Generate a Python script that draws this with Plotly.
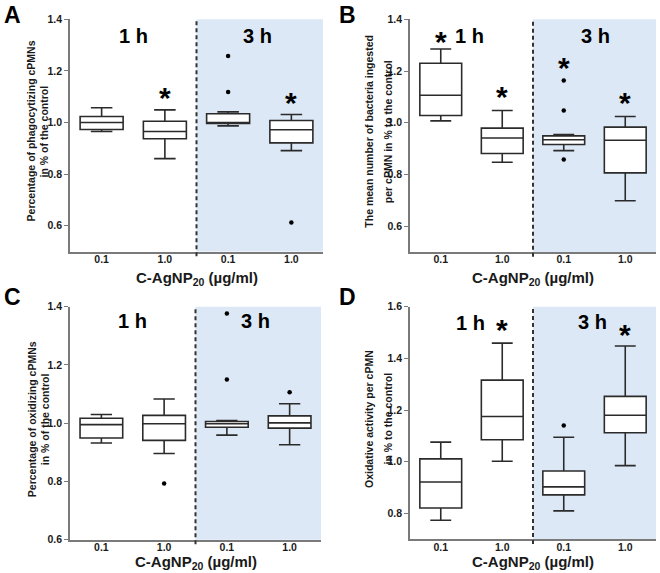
import plotly.graph_objects as go

W, H = 660, 573

positions = [0, 1, 2, 3]
tick_labels = ["0.1", "1.0", "0.1", "1.0"]

# Panel A: percentage of phagocytizing cPMNs
a_low = [0.965, 0.860, 0.987, 0.891]
a_q1 = [0.973, 0.937, 0.996, 0.921]
a_med = [1.000, 0.965, 0.999, 0.972]
a_q3 = [1.023, 1.005, 1.034, 1.008]
a_high = [1.057, 1.049, 1.041, 1.031]
a_out_x = [2, 2, 3]
a_out_y = [1.258, 1.118, 0.612]
a_star_x = [1, 3]
a_star_y = [1.11, 1.09]

# Panel B: mean number of bacteria ingested per cPMN
b_low = [1.007, 0.847, 0.892, 0.698]
b_q1 = [1.028, 0.881, 0.916, 0.806]
b_med = [1.106, 0.941, 0.934, 0.932]
b_q3 = [1.230, 0.979, 0.949, 0.983]
b_high = [1.285, 1.047, 0.954, 1.024]
b_out_x = [2, 2, 2]
b_out_y = [1.163, 1.047, 0.858]
b_star_x = [0, 1, 2, 3]
b_star_y = [1.327, 1.114, 1.227, 1.091]

# Panel C: percentage of oxidizing cPMNs
c_low = [0.932, 0.896, 0.959, 0.926]
c_q1 = [0.949, 0.941, 0.986, 0.983]
c_med = [0.995, 0.998, 0.998, 1.001]
c_q3 = [1.017, 1.027, 1.006, 1.025]
c_high = [1.030, 1.083, 1.009, 1.067]
c_out_x = [1, 2, 2, 3]
c_out_y = [0.793, 1.377, 1.150, 1.106]
c_star_x = []
c_star_y = []

# Panel D: oxidative activity per cPMN
d_low = [0.774, 1.002, 0.810, 0.985]
d_q1 = [0.821, 1.085, 0.872, 1.112]
d_med = [0.922, 1.175, 0.903, 1.180]
d_q3 = [1.011, 1.316, 0.964, 1.253]
d_high = [1.076, 1.459, 1.095, 1.448]
d_out_x = [2]
d_out_y = [1.140]
d_star_x = [1, 3]
d_star_y = [1.523, 1.504]

FONT = "Arial, Liberation Sans, sans-serif"
BOX_COLOR = "#2b2b2b"
AXIS_COLOR = "#7a7a7a"
SHADE = "#dce8f6"

panels = [
    dict(letter="A", low=a_low, q1=a_q1, med=a_med, q3=a_q3, high=a_high,
         ox=a_out_x, oy=a_out_y, sx=a_star_x, sy=a_star_y,
         yrange=[0.5, 1.4], ticks=[0.6, 0.8, 1.0, 1.2, 1.4],
         px=(70, 323), py=(19.3, 251.5),
         ytitle=["Percentage of phagocytizing cPMNs", "in % of the control"],
         ytx=[31, 44], hlab=[(0.5, 1.335), (2.47, 1.335)],
         letter_xy=(12, 15), xtitle_y=278),
    dict(letter="B", low=b_low, q1=b_q1, med=b_med, q3=b_q3, high=b_high,
         ox=b_out_x, oy=b_out_y, sx=b_star_x, sy=b_star_y,
         yrange=[0.5, 1.4], ticks=[0.6, 0.8, 1.0, 1.2, 1.4],
         px=(410, 656), py=(19.3, 252),
         ytitle=["The mean number of bacteria ingested", "per cPMN in % to the control"],
         ytx=[369, 387.5], hlab=[(0.46, 1.335), (2.51, 1.335)],
         letter_xy=(348, 15), xtitle_y=278),
    dict(letter="C", low=c_low, q1=c_q1, med=c_med, q3=c_q3, high=c_high,
         ox=c_out_x, oy=c_out_y, sx=c_star_x, sy=c_star_y,
         yrange=[0.6, 1.4], ticks=[0.6, 0.8, 1.0, 1.2, 1.4],
         px=(70, 321), py=(306.7, 539.7),
         ytitle=["Percentage of oxidizing cPMNs", "in % of the control"],
         ytx=[32, 45], hlab=[(0.49, 1.352), (2.46, 1.352)],
         letter_xy=(13, 297), xtitle_y=562),
    dict(letter="D", low=d_low, q1=d_q1, med=d_med, q3=d_q3, high=d_high,
         ox=d_out_x, oy=d_out_y, sx=d_star_x, sy=d_star_y,
         yrange=[0.7, 1.6], ticks=[0.8, 1.0, 1.2, 1.4, 1.6],
         px=(410, 656), py=(306.7, 539.3),
         ytitle=["Oxidative activity per cPMN", "in % to the control"],
         ytx=[369, 387.5], hlab=[(0.48, 1.538), (2.47, 1.542)],
         letter_xy=(348, 297), xtitle_y=562),
]

fig = go.Figure()
annotations = []
shapes = []
layout = {}

for i, p in enumerate(panels):
    n = "" if i == 0 else str(i + 1)
    xa, ya = "x" + n, "y" + n
    fig.add_trace(go.Box(
        x=positions, q1=p["q1"], median=p["med"], q3=p["q3"],
        lowerfence=p["low"], upperfence=p["high"],
        xaxis=xa, yaxis=ya, width=0.68, whiskerwidth=0.5,
        fillcolor="white", line=dict(color=BOX_COLOR, width=1.6),
        boxpoints=False, showlegend=False, hoverinfo="skip",
    ))
    if p["ox"]:
        fig.add_trace(go.Scatter(
            x=p["ox"], y=p["oy"], mode="markers", xaxis=xa, yaxis=ya,
            marker=dict(color="black", size=4.5), showlegend=False, hoverinfo="skip",
        ))
    x0, x1 = p["px"]
    y0, y1 = p["py"]
    layout["xaxis" + n] = dict(
        domain=[x0 / W, x1 / W], anchor=ya, range=[-0.5, 3.5], automargin=False,
        tickmode="array", tickvals=positions, ticktext=tick_labels,
        showline=True, linecolor=AXIS_COLOR, linewidth=1.6, ticks="",
        ticklabelstandoff=-3,
        showgrid=False, zeroline=False, fixedrange=True,
        tickfont=dict(family=FONT, size=10.5, color="#1a1a1a", weight="bold"),
    )
    layout["yaxis" + n] = dict(
        domain=[1 - y1 / H, 1 - y0 / H], anchor=xa, range=p["yrange"], automargin=False,
        tickmode="array", tickvals=p["ticks"],
        ticktext=["%.1f" % t for t in p["ticks"]],
        showline=True, linecolor=AXIS_COLOR, linewidth=1.6,
        ticks="outside", ticklen=4, tickwidth=1.4, tickcolor=AXIS_COLOR,
        showgrid=False, zeroline=False, fixedrange=True,
        tickfont=dict(family=FONT, size=10.5, color="#1a1a1a", weight="bold"),
    )
    # shaded 3 h region and dashed separator
    shapes.append(dict(type="rect", xref=xa, yref=ya + " domain", x0=1.5, x1=3.5,
                       y0=0, y1=1, fillcolor=SHADE, line=dict(width=0), layer="below"))
    shapes.append(dict(type="line", xref=xa, yref=ya + " domain", x0=1.5, x1=1.5,
                       y0=-0.02, y1=1, line=dict(color="#333333", width=2, dash="4px,3px"),
                       layer="above"))
    # 1 h / 3 h labels
    for (hx, hy), txt in zip(p["hlab"], ["1 h", "3 h"]):
        annotations.append(dict(x=hx, y=hy, xref=xa, yref=ya, text=txt, showarrow=False,
                                font=dict(family=FONT, size=20, color="black", weight="bold"),
                                xanchor="center", yanchor="middle"))
    # asterisks
    for sx, sy in zip(p["sx"], p["sy"]):
        annotations.append(dict(x=sx, y=sy, xref=xa, yref=ya, text="*", showarrow=False,
                                font=dict(family=FONT, size=30, color="black", weight="bold"),
                                xanchor="center", yanchor="middle", yshift=-3))
    # y-axis title lines
    ymid = 1 - ((y0 + y1) / 2 - 4) / H
    for tx, line in zip(p["ytx"], p["ytitle"]):
        annotations.append(dict(x=tx / W, y=ymid, xref="paper", yref="paper", text=line,
                                textangle=-90, showarrow=False,
                                font=dict(family=FONT, size=10.5, color="#1a1a1a", weight="bold"),
                                xanchor="center", yanchor="middle"))
    # x-axis title
    annotations.append(dict(x=(x0 + x1) / 2 / W, y=1 - p["xtitle_y"] / H, xref="paper",
                            yref="paper", text="C-AgNP<sub>20</sub> (µg/ml)", showarrow=False,
                            font=dict(family=FONT, size=15, color="#1a1a1a", weight="bold"),
                            xanchor="center", yanchor="middle"))
    # panel letter
    lx, ly = p["letter_xy"]
    annotations.append(dict(x=lx / W, y=1 - ly / H, xref="paper", yref="paper",
                            text=p["letter"], showarrow=False,
                            font=dict(family=FONT, size=23, color="black", weight="bold"),
                            xanchor="center", yanchor="middle"))

fig.update_layout(
    width=W, height=H, margin=dict(l=0, r=0, t=0, b=0),
    paper_bgcolor="white", plot_bgcolor="white",
    shapes=shapes, annotations=annotations, **layout,
)

fig.write_html("out.html", config={"displayModeBar": False},
               post_script="document.body.style.margin='0px';document.body.style.overflow='hidden';")
